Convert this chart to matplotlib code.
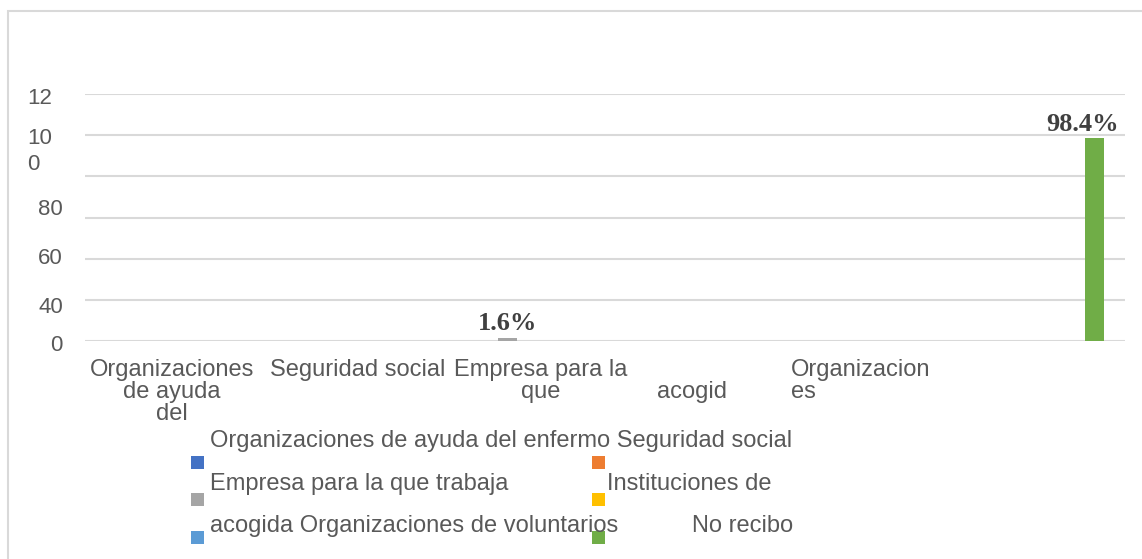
import matplotlib.pyplot as plt
from matplotlib.patches import Rectangle
import numpy as np

plt.rcParams['font.family'] = ['Liberation Sans', 'DejaVu Sans']

# one series per category, Excel-style clustered columns
series = ["Organizaciones de ayuda del enfermo", "Seguridad social",
          "Empresa para la que trabaja", "Instituciones de acogida",
          "Organizaciones de voluntarios", "No recibo"]
values = [0, 0, 1.6, 0, 0, 98.4]
colors = ["#4472C4", "#ED7D31", "#A5A5A5", "#FFC000", "#5B9BD5", "#70AD47"]

# category labels as they come out of the exported sheet (wrapped / cut)
xlabels = ["Organizaciones\nde ayuda\ndel", "Seguridad social", "Empresa para la\nque",
           "\nacogid", "Organizacion\nes", ""]
xlabel_shift = [0, 9, 16, 0, -3, 0]      # points
xlabel_align = ["center", "center", "center", "center", "left", "center"]
grid_vals = [0, 20, 40, 60, 80, 100, 120]
ylabels = ["0", "40", "60", "80", "10\n0", "12"]
ylabel_pos = [-2, 16.5, 40, 64, 92, 118]
ylabel_left = [False, False, False, False, True, True]

# legend rows: (text, x px, baseline px)
legend_texts = [("Organizaciones de ayuda del enfermo Seguridad social", 210, 447),
                ("Empresa para la que trabaja", 210, 490),
                ("Instituciones de", 607, 490),
                ("acogida Organizaciones de voluntarios", 210, 532),
                ("No recibo", 692, 532)]
legend_squares = [(191, 456), (592, 456), (191, 493), (592, 493), (191, 531), (592, 531)]

W, H = 1142, 559
fig = plt.figure(figsize=(W / 100, H / 100), dpi=100)
ax = fig.add_axes([85 / W, 1 - 341 / H, 1040 / W, 247 / H])

step = 0.13
x = np.arange(len(series))
for i, (v, c) in enumerate(zip(values, colors)):
    xi = x[i] + (i - 2.5) * step
    ax.bar(xi, v, width=0.11, color=c, linewidth=0, zorder=3)
    if v > 0:
        dx = -9 if v > 50 else 0
        ax.annotate(f"{v}%", (xi, v), xytext=(dx, 2), textcoords="offset points",
                    ha="center", va="bottom", fontsize=19, fontweight="bold",
                    family="Liberation Serif", color="#404040")

ax.set_xlim(-0.5, 5.5)
ax.set_ylim(0, 120)
ax.set_yticks(grid_vals)
ax.set_yticklabels([])
ax.set_xticks(x)
ax.set_xticklabels([])
ax.tick_params(length=0)
ax.grid(axis="y", color="#d9d9d9", linewidth=1.5, zorder=0)
for s in ax.spines.values():
    s.set_visible(False)

for xi, lab, dx, al in zip(x, xlabels, xlabel_shift, xlabel_align):
    ax.annotate(lab, (xi, 0), xycoords=("data", "axes fraction"),
                xytext=(dx, -13), textcoords="offset points", ha="center", va="top",
                fontsize=17, color="#595959", linespacing=1.0, multialignment=al)

ytrans = ax.get_yaxis_transform()
for lab, pos, left in zip(ylabels, ylabel_pos, ylabel_left):
    if left:
        ax.text(-0.0558, pos, lab, transform=ytrans, ha="left", va="center",
                fontsize=16, color="#595959", linespacing=1.3, multialignment="left")
    else:
        ax.text(-0.0212, pos, lab, transform=ytrans, ha="right", va="center",
                fontsize=16, color="#595959")

# hand-placed legend
for (txt, px, py) in legend_texts:
    fig.text(px / W, 1 - py / H, txt, fontsize=17, color="#595959",
             ha="left", va="baseline")
for (px, py), c in zip(legend_squares, colors):
    fig.add_artist(Rectangle((px / W, 1 - (py + 13) / H), 13 / W, 13 / H,
                             transform=fig.transFigure, color=c, linewidth=0))

# chart border
fig.add_artist(Rectangle((8 / W, -0.05), 1.2, 1 - 11 / H + 0.05, transform=fig.transFigure,
                         fill=False, edgecolor="#d9d9d9", linewidth=1.5))

fig.savefig("out.png", dpi=100)
